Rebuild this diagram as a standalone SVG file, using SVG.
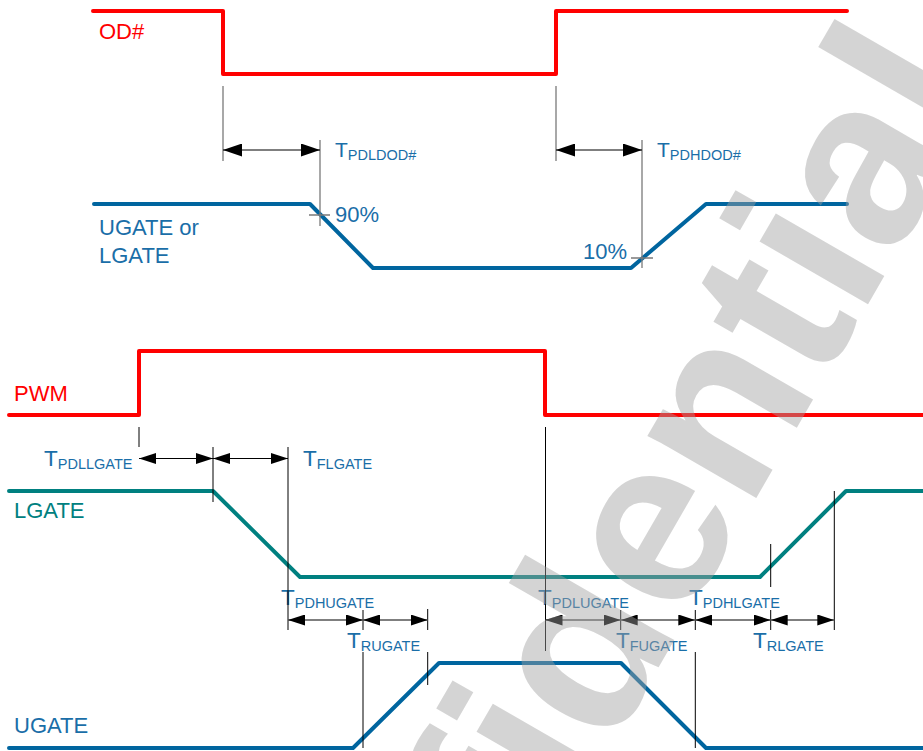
<svg xmlns="http://www.w3.org/2000/svg" width="923" height="751" viewBox="0 0 923 751">
<style>
.sig{fill:none;stroke-width:4;stroke-linejoin:round;stroke-linecap:round}
.red{stroke:#ff0000}
.blue{stroke:#00659f}
.teal{stroke:#008080}
.lbl{font-family:"Liberation Sans",Arial,sans-serif;font-size:22px}
.tl{font-family:"Liberation Sans",Arial,sans-serif;fill:#1a6ea8}
.ext{stroke:#7a7a7a;stroke-width:1.3;fill:none}
.extb{stroke:#000;stroke-width:1;fill:none}
.arr1{stroke:#000;stroke-width:1.2;marker-start:url(#ahL);marker-end:url(#ahL)}
.arr2{stroke:#000;stroke-width:1;marker-start:url(#ahS);marker-end:url(#ahS)}
.arr3{stroke:#555;stroke-width:1.6;marker-start:url(#ahS);marker-end:url(#ahS)}
</style>
<defs>
<marker id="ahL" viewBox="0 0 19 13" refX="19" refY="6.5" markerWidth="19" markerHeight="13" markerUnits="userSpaceOnUse" orient="auto-start-reverse"><path d="M0,0 L19,6.5 L0,13 z" fill="#000"/></marker>
<marker id="ahS" viewBox="0 0 17 11" refX="17" refY="5.5" markerWidth="17" markerHeight="11" markerUnits="userSpaceOnUse" orient="auto-start-reverse"><path d="M0,0 L17,5.5 L0,11 z" fill="#000"/></marker>
</defs>

<g id="od">
<path class="sig red" d="M93,11 H223 V74 H556 V11 H847"/>
<text class="lbl" x="99" y="39" fill="#ff0000">OD#</text>
</g>
<g id="gate-top">
<path class="sig blue" d="M94,204 H310 L373,268 H631 L706,204 H847"/>
<text class="lbl" x="99" y="235" fill="#1a6ea8">UGATE or</text>
<text class="lbl" x="99" y="263" fill="#1a6ea8">LGATE</text>
<text class="lbl" x="335" y="222" fill="#1a6ea8">90%</text>
<text class="lbl" x="583" y="259" fill="#1a6ea8">10%</text>
</g>
<g id="pwm">
<path class="sig red" d="M9,415 H139 V351 H545 V415 H925"/>
<text class="lbl" x="14" y="401" fill="#ff0000">PWM</text>
</g>
<g id="lgate">
<path class="sig teal" d="M9,491 H213 L300,577 H760 L846,491 H925"/>
<text class="lbl" x="14" y="518" fill="#008080">LGATE</text>
</g>
<g id="ugate">
<path class="sig blue" d="M9,748 H353 L439,663 H621 L706,748 H925"/>
<text class="lbl" x="14" y="733" fill="#1a6ea8">UGATE</text>
</g>

<g id="timing-labels">
<text class="tl" x="335" y="157" font-size="21">T<tspan font-size="14.5" dy="3">PDLDOD#</tspan></text>
<text class="tl" x="657" y="157" font-size="21">T<tspan font-size="14.5" dy="3">PDHDOD#</tspan></text>
<text class="tl" x="44" y="466" font-size="22.5">T<tspan font-size="14.5" dy="2.5">PDLLGATE</tspan></text>
<text class="tl" x="303" y="466" font-size="22.5">T<tspan font-size="14.5" dy="2.5">FLGATE</tspan></text>
<text class="tl" x="281" y="605" font-size="22.5">T<tspan font-size="14.5" dy="2.5">PDHUGATE</tspan></text>
<text class="tl" x="347" y="648" font-size="22.5">T<tspan font-size="14.5" dy="3">RUGATE</tspan></text>
<text class="tl" x="538" y="605" font-size="22.5">T<tspan font-size="14.5" dy="2.5">PDLUGATE</tspan></text>
<text class="tl" x="616" y="648" font-size="22.5">T<tspan font-size="14.5" dy="3">FUGATE</tspan></text>
<text class="tl" x="689" y="605" font-size="22.5">T<tspan font-size="14.5" dy="2.5">PDHLGATE</tspan></text>
<text class="tl" x="753" y="648" font-size="22.5">T<tspan font-size="14.5" dy="3">RLGATE</tspan></text>
</g>

<g id="connectors">
<path class="ext" d="M223,86 V161 M320,140 V226 M556,86 V161 M642,140 V268 M309,215 H330 M631,258 H653"/>
<line class="arr1" x1="223" y1="150" x2="320" y2="150"/>
<line class="arr1" x1="556" y1="150" x2="642" y2="150"/>
<path class="extb" d="M139,427 V447 M213,447 V502 M288,447 V630 M363,610 V630 M363,652 V748 M427.7,609 V630 M427.7,652 V685 M545.5,427 V651 M620.7,610 V630 M695.3,610 V630 M695.3,652 V748 M770.7,544 V587 M770.7,610 V630 M834.3,491 V630"/>
<line class="arr2" x1="139" y1="458.5" x2="213" y2="458.5"/>
<line class="arr2" x1="213" y1="458.5" x2="288" y2="458.5"/>
<line class="arr3" x1="288" y1="620" x2="363" y2="620"/>
<line class="arr3" x1="363" y1="620" x2="427.7" y2="620"/>
<line class="arr3" x1="545.5" y1="620" x2="620.7" y2="620"/>
<line class="arr3" x1="620.7" y1="620" x2="695.3" y2="620"/>
<line class="arr3" x1="695.3" y1="620" x2="770.7" y2="620"/>
<line class="arr3" x1="770.7" y1="620" x2="834.3" y2="620"/>
</g>

<g id="watermark">
<text transform="translate(307,1276) rotate(-60)" font-family="Liberation Sans,Arial,sans-serif" font-weight="bold" font-size="237" fill="#a0a0a0" fill-opacity="0.45">Confidential</text>
</g>
</svg>
